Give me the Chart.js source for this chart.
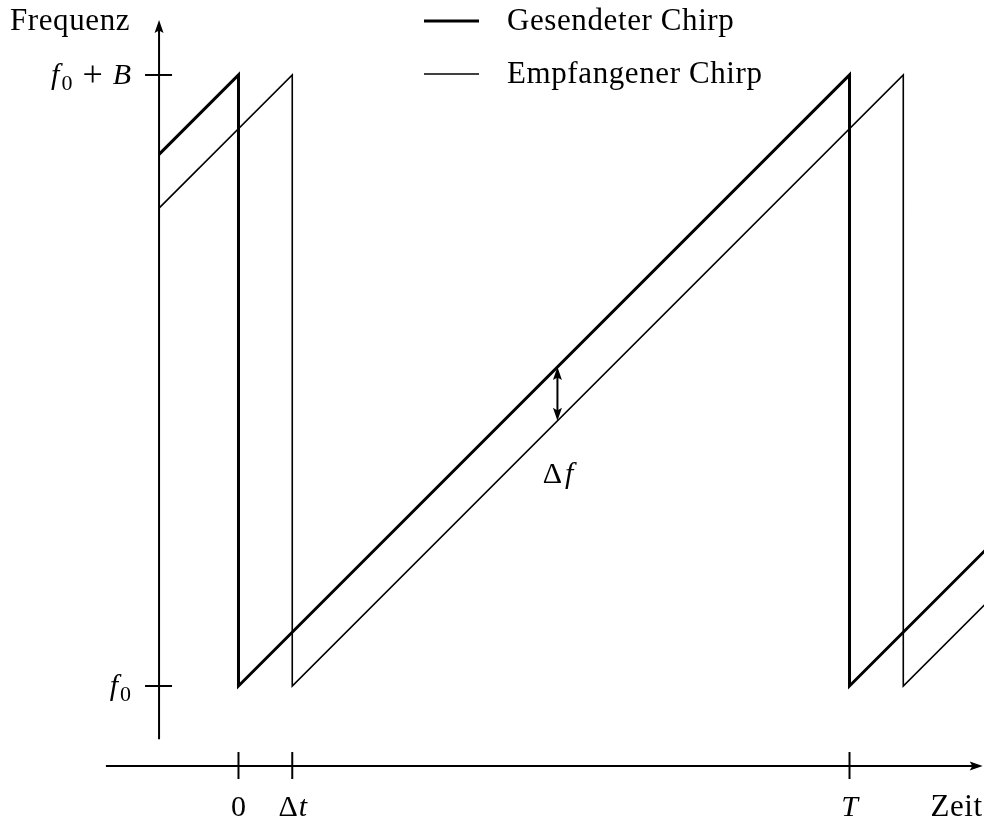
<!DOCTYPE html>
<html>
<head>
<meta charset="utf-8">
<title>Chirp</title>
<script src="https://cdn.jsdelivr.net/npm/chart.js@4/dist/chart.umd.min.js"></script>
<style>
  body { margin: 0; background: #fff; }
  #chart { display: block; }
</style>
</head>
<body>
<canvas id="chart" width="984" height="822"></canvas>
<script>
// Zeit in Einheiten von T, Frequenz in Einheiten von B ueber f0
const sentTime = [-0.130, 0, 0, 1, 1, 1.222];
const sentFreq = [0.870, 1, 0, 1, 0, 0.222];
const recvTime = [-0.130, 0.088, 0.088, 1.088, 1.088, 1.222];
const recvFreq = [0.782, 1, 0, 1, 0, 0.134];

const seriesNames = ['Gesendeter Chirp', 'Empfangener Chirp'];

// Achsenbeschriftung (i = kursiv, sub = tiefgestellt, gap = Abstand links/rechts)
const timeTicks = [0, 0.088, 1];
const timeLabels = [
    [{ t: '0' }],
    [{ t: 'Δ', gap: 1 }, { t: 't', i: true }],
    [{ t: 'T', i: true }]
];
const freqTicks = [0, 1];
const freqLabels = [
    [{ t: 'f', i: true, gap: 2 }, { t: '0', sub: true }],
    [{ t: 'f', i: true, gap: 2 }, { t: '0', sub: true }, { t: '+', big: true, gap: 10 }, { t: 'B', i: true }]
];

// Markierung Delta f
const deltaTime = 0.522;

const FONT = '"Liberation Serif", "Times New Roman", serif';

function runFont(r) {
    let size = 30;
    if (r.sub) size = 22;
    if (r.text) size = 31;
    if (r.big) size = 36;
    return (r.i ? 'italic ' : '') + size + 'px ' + FONT;
}

function runWidth(ctx, r) {
    ctx.font = runFont(r);
    ctx.letterSpacing = r.text ? '0.6px' : '0px';
    return ctx.measureText(r.t).width + 2 * (r.gap || 0);
}

// Text aus mehreren Stuecken zeichnen, y = Grundlinie
function drawRuns(ctx, runs, x, y, align) {
    let w = 0;
    runs.forEach(function(r) { w += runWidth(ctx, r); });
    let cx = x;
    if (align === 'center') cx = x - w / 2;
    if (align === 'right') cx = x - w;
    ctx.textAlign = 'left';
    ctx.textBaseline = 'alphabetic';
    runs.forEach(function(r) {
        const rw = runWidth(ctx, r);
        const dy = r.sub ? 6 : (r.big ? 2 : 0);
        ctx.fillText(r.t, cx + (r.gap || 0), y + dy);
        cx += rw;
    });
    ctx.letterSpacing = '0px';
}

function arrowHead(ctx, x, y, dx, dy) {
    const len = 13, half = 4.5;
    const px = -dy, py = dx;
    ctx.beginPath();
    ctx.moveTo(x, y);
    ctx.lineTo(x - dx * len + px * half, y - dy * len + py * half);
    ctx.lineTo(x - dx * len * 0.8, y - dy * len * 0.8);
    ctx.lineTo(x - dx * len - px * half, y - dy * len - py * half);
    ctx.closePath();
    ctx.fill();
}

function line(ctx, x1, y1, x2, y2, w) {
    ctx.lineWidth = w;
    ctx.beginPath();
    ctx.moveTo(x1, y1);
    ctx.lineTo(x2, y2);
    ctx.stroke();
}

const chirpAxes = {
    id: 'chirpAxes',
    beforeDatasetsDraw: function(chart) {
        const ctx = chart.ctx;
        const xs = chart.scales.x, ys = chart.scales.y;
        ctx.save();
        ctx.strokeStyle = '#000';
        ctx.fillStyle = '#000';
        ctx.lineCap = 'butt';

        // Frequenzachse
        const ax = xs.getPixelForValue(-0.130);
        const yTop = ys.getPixelForValue(1.090);
        line(ctx, ax, ys.getPixelForValue(-0.087), ax, yTop + 6, 2);
        arrowHead(ctx, ax, yTop, 0, -1);
        freqTicks.forEach(function(f, i) {
            const py = ys.getPixelForValue(f);
            line(ctx, ax - 14, py, ax + 13, py, 2);
            drawRuns(ctx, freqLabels[i], ax - 28, py + 9, 'right');
        });

        // Zeitachse
        const ay = ys.getPixelForValue(-0.131);
        const xEnd = xs.getPixelForValue(1.218);
        line(ctx, xs.getPixelForValue(-0.217), ay, xEnd - 6, ay, 2);
        arrowHead(ctx, xEnd, ay, 1, 0);
        timeTicks.forEach(function(t, i) {
            const px = xs.getPixelForValue(t);
            line(ctx, px, ay - 14, px, ay + 13, 2);
            drawRuns(ctx, timeLabels[i], px, ay + 50, 'center');
        });

        drawRuns(ctx, [{ t: 'Frequenz', text: true }], 10, 30, 'left');
        drawRuns(ctx, [{ t: 'Zeit', text: true }], xEnd, ay + 50, 'right');
        ctx.restore();
    },
    afterDraw: function(chart) {
        const ctx = chart.ctx;
        const xs = chart.scales.x, ys = chart.scales.y;
        ctx.save();
        ctx.strokeStyle = '#000';
        ctx.fillStyle = '#000';

        // Delta f Pfeil zwischen den Chirps
        const px = xs.getPixelForValue(deltaTime);
        const yHi = ys.getPixelForValue(deltaTime);
        const yLo = ys.getPixelForValue(deltaTime - recvTime[1]);
        line(ctx, px, yHi + 6, px, yLo - 6, 2);
        arrowHead(ctx, px, yHi, 0, -1);
        arrowHead(ctx, px, yLo, 0, 1);
        drawRuns(ctx, [{ t: 'Δ', gap: 2 }, { t: 'f', i: true, gap: 1 }], px, yLo + 62, 'center');

        // Legende
        chart.data.datasets.forEach(function(ds, i) {
            const ly = 21 + i * 53;
            line(ctx, 424, ly, 479, ly, ds.borderWidth);
            drawRuns(ctx, [{ t: ds.label, text: true }], 507, ly + 9, 'left');
        });
        ctx.restore();
    }
};

function toPoints(xs, ys) {
    return xs.map(function(x, i) { return { x: x, y: ys[i] }; });
}

new Chart(document.getElementById('chart'), {
    type: 'scatter',
    data: {
        datasets: [{
            label: seriesNames[0],
            data: toPoints(sentTime, sentFreq),
            borderColor: '#000',
            borderWidth: 3,
            showLine: true,
            pointRadius: 0,
            borderJoinStyle: 'miter'
        }, {
            label: seriesNames[1],
            data: toPoints(recvTime, recvFreq),
            borderColor: '#000',
            borderWidth: 1.6,
            showLine: true,
            pointRadius: 0,
            borderJoinStyle: 'miter'
        }]
    },
    options: {
        responsive: false,
        animation: false,
        devicePixelRatio: 1,
        layout: { padding: 0 },
        plugins: {
            legend: { display: false },
            tooltip: { enabled: false }
        },
        scales: {
            x: { type: 'linear', min: -0.3903, max: 1.2201, display: false },
            y: { type: 'linear', min: -0.2226, max: 1.1227, display: false }
        }
    },
    plugins: [chirpAxes]
});
</script>
</body>
</html>
